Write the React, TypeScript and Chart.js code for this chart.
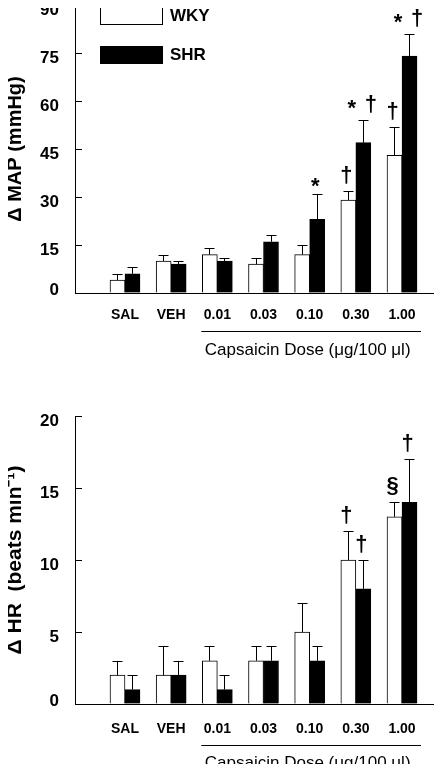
import React, { useEffect, useRef, useState } from "react";
import { Chart, registerables } from "chart.js";

Chart.register(...registerables);

const FONT = "'Liberation Sans', Arial, Helvetica, sans-serif";

// ---------- data ----------
const CATEGORIES = ["SAL", "VEH", "0.01", "0.03", "0.10", "0.30", "1.00"];
const SERIES = ["WKY", "SHR"];
const DOSE_TITLE = "Capsaicin Dose (\u03bcg/100 \u03bcl)";
const DOSE_FIRST = "0.01";
const DOSE_LAST = "1.00";

const MAP_TITLE = "\u0394 MAP (mmHg)";
const MAP_TICKS = [0, 15, 30, 45, 60, 75, 90];
const MAP_WKY = [4, 10, 12, 9, 12, 29, 43];
const MAP_WKY_ERR = [2, 2, 2, 2, 3, 3, 9];
const MAP_SHR = [6, 9, 10, 16, 23, 47, 74];
const MAP_SHR_ERR = [2, 1, 1, 2, 8, 7, 7];
const MAP_WKY_MARKS = ["", "", "", "", "", "\u2020", "\u2020"];
const MAP_SHR_MARKS = ["", "", "", "", "*", "* \u2020", "* \u2020"];

const HR_TITLE = "\u0394 HR  (beats min\u207b\u00b9)";
const HR_TICKS = [0, 5, 10, 15, 20];
const HR_WKY = [2, 2, 3, 3, 5, 10, 13];
const HR_WKY_ERR = [1, 2, 1, 1, 2, 2, 1];
const HR_SHR = [1, 2, 1, 3, 3, 8, 14];
const HR_SHR_ERR = [1, 1, 1, 1, 1, 2, 3];
const HR_WKY_MARKS = ["", "", "", "", "", "\u2020", "\u00a7"];
const HR_SHR_MARKS = ["", "", "", "", "", "\u2020", "\u2020"];

type Extra = {
  errors: number[][];
  marks: string[][];
  markGap: number;
  zeroShift: number;
  bracketGap: number;
  titleGap: number;
  legend: boolean;
};

function makePlugin(ex: Extra) {
  return {
    id: "panel",
    beforeDraw(chart: any) {
      try {
        const ys = chart.scales.y;
        if (typeof ys.getLabelItems === "function") {
          const items = ys.getLabelItems();
          if (items && !items._shifted) {
            items.forEach((it: any) => {
              if (it.label === "0" && it.options && it.options.translation) {
                it.options.translation[1] -= ex.zeroShift;
              }
            });
            items._shifted = true;
          }
        }
      } catch (e) {
        /* ignore */
      }
    },
    afterDatasetsDraw(chart: any) {
      const ctx = chart.ctx;
      const ys = chart.scales.y;
      ctx.save();
      ctx.strokeStyle = "#000";
      ctx.fillStyle = "#000";
      ctx.lineWidth = 1;
      chart.data.datasets.forEach((ds: any, di: number) => {
        const meta = chart.getDatasetMeta(di);
        const errs = ex.errors[di];
        const marks = ex.marks[di];
        meta.data.forEach((bar: any, i: number) => {
          const v = ds.data[i].y;
          const x = Math.round(bar.x - 0.5) + 0.5;
          const yTop = Math.round(ys.getPixelForValue(v + errs[i])) + 0.5;
          const yBar = ys.getPixelForValue(v);
          ctx.beginPath();
          ctx.moveTo(x, yBar);
          ctx.lineTo(x, yTop);
          ctx.moveTo(x - 5, yTop);
          ctx.lineTo(x + 5, yTop);
          ctx.stroke();
          const m = marks[i];
          if (m) {
            ctx.font = `bold 22px ${FONT}`;
            ctx.textAlign = "center";
            ctx.textBaseline = "alphabetic";
            const glyphs = m.split(" ");
            const ms = glyphs.map((g: string) => ctx.measureText(g));
            let h = 0;
            ms.forEach((t: any) => {
              h = Math.max(h, t.actualBoundingBoxAscent + t.actualBoundingBoxDescent);
            });
            const cy = yTop - ex.markGap - h / 2;
            glyphs.forEach((g: string, k: number) => {
              const t = ms[k];
              const cx = bar.x - 2 + (k - (glyphs.length - 1) / 2) * 19;
              const base = cy + (t.actualBoundingBoxAscent - t.actualBoundingBoxDescent) / 2;
              ctx.fillText(g, cx, base);
            });
          }
        });
      });
      ctx.restore();
    },
    afterDraw(chart: any) {
      const ctx = chart.ctx;
      const ca = chart.chartArea;
      const ys = chart.scales.y;
      const xs = chart.scales.x;
      ctx.save();
      ctx.strokeStyle = "#000";
      ctx.lineWidth = 1;
      ys.ticks.forEach((t: any) => {
        if (t.value === 0) return;
        const py = Math.round(ys.getPixelForValue(t.value)) + 0.5;
        ctx.beginPath();
        ctx.moveTo(ca.left, py);
        ctx.lineTo(ca.left + 7, py);
        ctx.stroke();
      });
      const i1 = CATEGORIES.indexOf(DOSE_FIRST) + 1;
      const i2 = CATEGORIES.indexOf(DOSE_LAST) + 1;
      const p1 = xs.getPixelForValue(i1);
      const p2 = xs.getPixelForValue(i2);
      const by = Math.round(ca.bottom + ex.bracketGap) + 0.5;
      ctx.beginPath();
      ctx.moveTo(p1 - 16, by);
      ctx.lineTo(p2 + 19, by);
      ctx.stroke();
      ctx.fillStyle = "#000";
      ctx.font = `17px ${FONT}`;
      ctx.textAlign = "center";
      ctx.textBaseline = "middle";
      ctx.fillText(DOSE_TITLE, (p1 + p2) / 2 - 2, ca.bottom + ex.titleGap);
      if (ex.legend) {
        chart.data.datasets.forEach((ds: any, di: number) => {
          const bx = Math.round(ca.left + 25);
          const byy = Math.round(ca.top + 2 + di * 39);
          ctx.fillStyle = ds.backgroundColor;
          ctx.fillRect(bx, byy, 62, 17);
          ctx.strokeRect(bx + 0.5, byy + 0.5, 62, 17);
          ctx.fillStyle = "#000";
          ctx.font = `bold 17px ${FONT}`;
          ctx.textAlign = "left";
          ctx.textBaseline = "middle";
          ctx.fillText(ds.label, bx + 70, byy + 9.5);
        });
      }
      ctx.restore();
    },
  };
}

type PanelProps = {
  height: number;
  padTop: number;
  axisHeight: number;
  tickPad: number;
  bracketGap: number;
  titleGap: number;
  yTitle: string;
  yTitleSize: number;
  yTicks: number[];
  wky: number[];
  wkyErr: number[];
  shr: number[];
  shrErr: number[];
  wkyMarks: string[];
  shrMarks: string[];
  legend: boolean;
};

function Panel(p: PanelProps) {
  const ref = useRef<HTMLCanvasElement>(null);
  const [err, setErr] = useState("");
  useEffect(() => {
    const canvas = ref.current!;
    const yMax = p.yTicks[p.yTicks.length - 1];
    const yStep = p.yTicks[1] - p.yTicks[0];
    let chart: any = null;
    try {
      chart = new Chart(canvas, {
        type: "bar",
        data: {
          datasets: [
            {
              label: SERIES[0],
              data: p.wky.map((v, i) => ({ x: i + 1, y: v })),
              backgroundColor: "#ffffff",
              borderColor: "#000000",
              borderWidth: 1,
              barThickness: 15,
            },
            {
              label: SERIES[1],
              data: p.shr.map((v, i) => ({ x: i + 1, y: v })),
              backgroundColor: "#000000",
              borderColor: "#000000",
              borderWidth: 1,
              barThickness: 15,
            },
          ],
        } as any,
        options: {
          animation: false,
          responsive: false,
          events: [],
          layout: { padding: { top: p.padTop, left: 0, right: 0, bottom: 0 } },
          scales: {
            x: {
              type: "linear",
              offset: false,
              min: -0.083,
              max: 7.866,
              grid: { display: true, drawOnChartArea: false, drawTicks: false },
              border: { display: true, color: "#000", width: 1 },
              ticks: {
                stepSize: 1,
                includeBounds: false,
                autoSkip: false,
                maxRotation: 0,
                minRotation: 0,
                padding: p.tickPad,
                color: "#000",
                font: { family: FONT, size: 14, weight: "bold" },
                callback: (v: any) => {
                  const n = Number(v);
                  return Number.isInteger(n) && n >= 1 && n <= CATEGORIES.length
                    ? CATEGORIES[n - 1]
                    : "";
                },
              },
              afterFit: (s: any) => {
                s.height = p.axisHeight;
                s.paddingLeft = 0;
                s.paddingRight = 0;
              },
            },
            y: {
              type: "linear",
              min: 0,
              max: yMax,
              grid: { display: true, drawOnChartArea: false, drawTicks: false },
              border: { display: true, color: "#000", width: 1 },
              ticks: {
                stepSize: yStep,
                padding: 16,
                labelOffset: 5,
                color: "#000",
                font: { family: FONT, size: 17, weight: "bold" },
              },
              title: {
                display: true,
                text: p.yTitle,
                color: "#000",
                font: { family: FONT, size: p.yTitleSize, weight: "bold" },
                padding: { top: 3, bottom: 0 },
              },
              afterFit: (s: any) => {
                s.width = 75;
                s.paddingTop = 0;
                s.paddingBottom = 0;
              },
            },
          },
          plugins: {
            legend: { display: false },
            tooltip: { enabled: false },
          },
        } as any,
        plugins: [
          makePlugin({
            errors: [p.wkyErr, p.shrErr],
            marks: [p.wkyMarks, p.shrMarks],
            markGap: 7.5,
            zeroShift: 8,
            bracketGap: p.bracketGap,
            titleGap: p.titleGap,
            legend: p.legend,
          }) as any,
        ],
      });
    } catch (e: any) {
      setErr(String(e && e.stack ? e.stack : e));
    }
    return () => {
      if (chart) chart.destroy();
    };
  }, []);
  return (
    <div style={{ width: 442, height: p.height }}>
      {err ? <div style={{ fontSize: 10 }}>{err}</div> : null}
      <canvas ref={ref} width={442} height={p.height} style={{ display: "block" }} />
    </div>
  );
}

export default function App() {
  return (
    <div style={{ margin: "-8px", width: 442, height: 772, overflow: "hidden" }}>
      <Panel
        height={386}
        padTop={5}
        axisHeight={93}
        tickPad={14}
        bracketGap={38}
        titleGap={57}
        yTitle={MAP_TITLE}
        yTitleSize={20}
        yTicks={MAP_TICKS}
        wky={MAP_WKY}
        wkyErr={MAP_WKY_ERR}
        shr={MAP_SHR}
        shrErr={MAP_SHR_ERR}
        wkyMarks={MAP_WKY_MARKS}
        shrMarks={MAP_SHR_MARKS}
        legend={true}
      />
      <Panel
        height={386}
        padTop={30}
        axisHeight={68}
        tickPad={17}
        bracketGap={41}
        titleGap={59}
        yTitle={HR_TITLE}
        yTitleSize={21}
        yTicks={HR_TICKS}
        wky={HR_WKY}
        wkyErr={HR_WKY_ERR}
        shr={HR_SHR}
        shrErr={HR_SHR_ERR}
        wkyMarks={HR_WKY_MARKS}
        shrMarks={HR_SHR_MARKS}
        legend={false}
      />
    </div>
  );
}
